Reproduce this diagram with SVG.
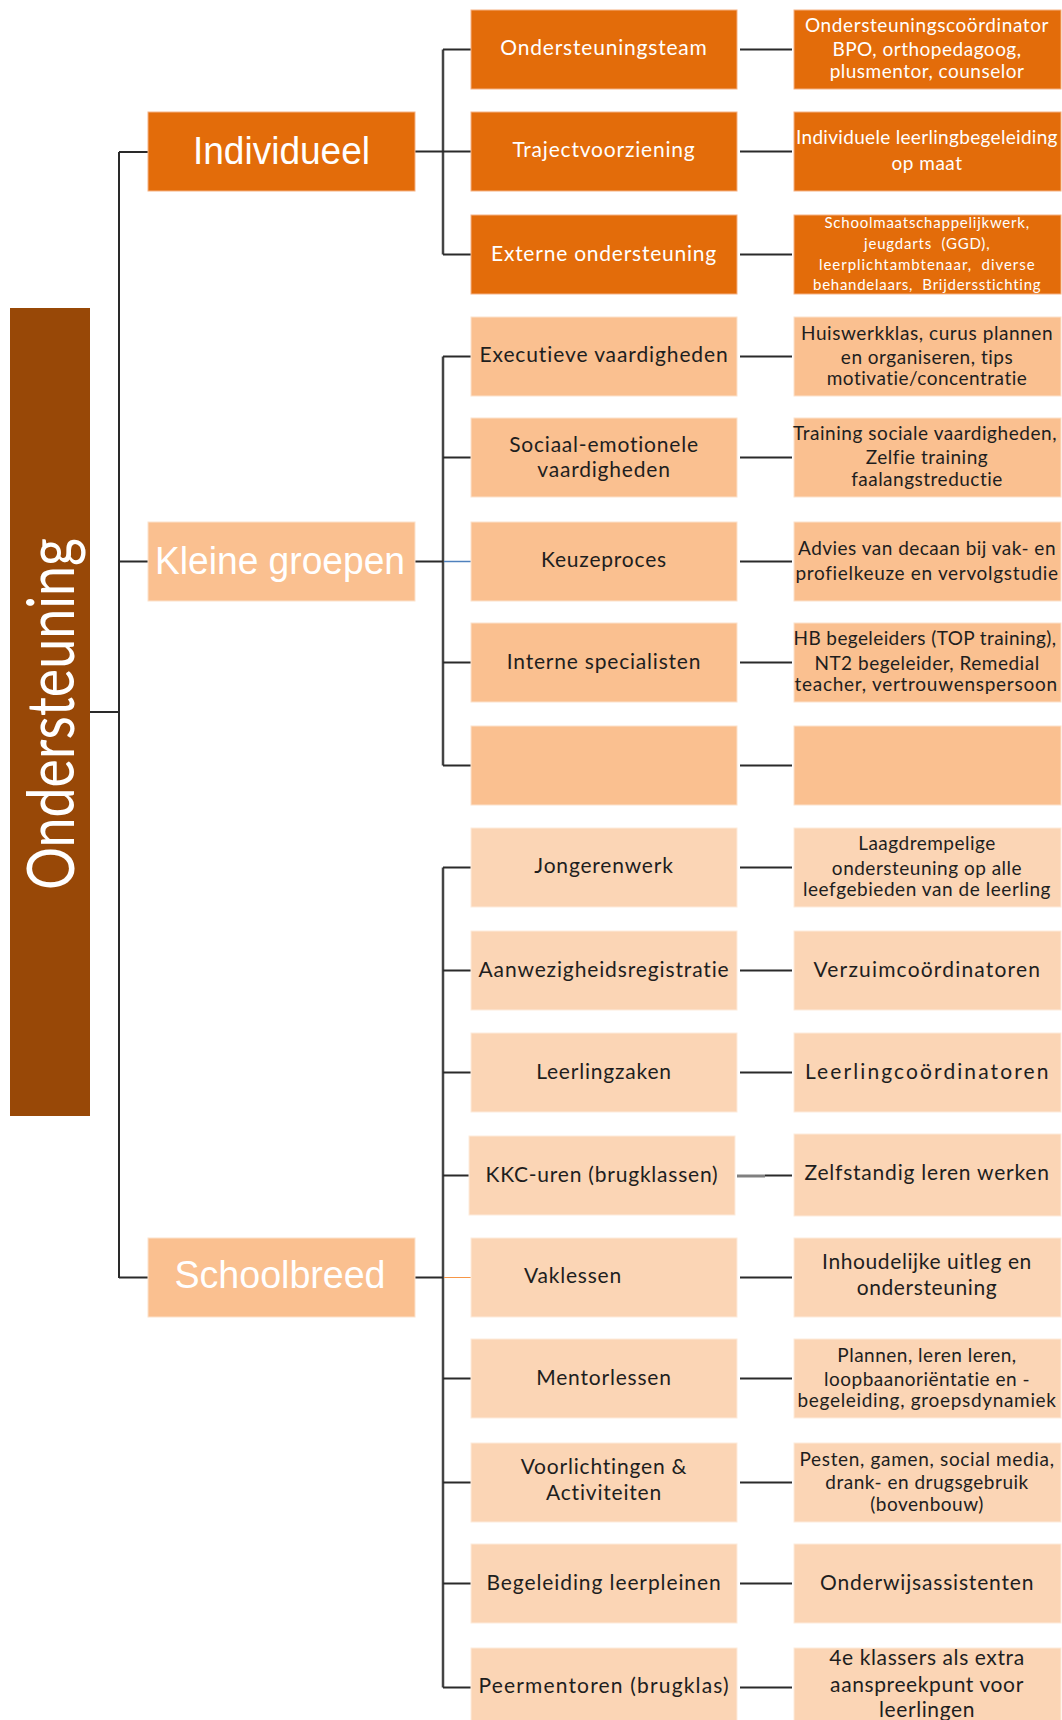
<svg xmlns="http://www.w3.org/2000/svg" width="1062" height="1720" viewBox="0 0 1062 1720">
<style>
.n1{fill:#E36C0A;stroke:#F5B183;stroke-width:1}
.n2{fill:#FAC090;stroke:#FCE2CC;stroke-width:1}
.n3{fill:#FBD5B5;stroke:#FDEBDC;stroke-width:1}
.root{fill:#984807}
text{font-family:Lato,"Open Sans",sans-serif;text-anchor:middle}
.big{font-family:"Liberation Sans",Arial,sans-serif;font-size:38px;fill:#fff}
.m{font-size:21px;letter-spacing:0.8px}
.r{font-size:19px;letter-spacing:0.5px}
.rl{font-size:21px;letter-spacing:0.6px}
.s{font-size:15px;letter-spacing:0.4px}
.w{fill:#fff}
.d{fill:#1e1e1e}
.c{stroke:#2a2a2a;stroke-width:2;fill:none}
.cv{stroke:#444;stroke-width:2.5;fill:none}
</style>
<g id="connectors">
<path class="c" d="M90 712H119M119 152V1278M119 152H148M119 561.5H148M119 1277.5H148"/>
<path class="cv" d="M443 49.5V254.5M443 356.5V765.5M443 867.5V1687.5"/>
<path class="c" stroke-width="3" d="M415 151.5H443M415 561.5H443M415 1277.5H443"/>
<path class="c" d="M443 49.5H471M443 151.5H471M443 254.5H471M443 356.5H471M443 457.5H471M443 662.5H471M443 765.5H471M443 867.5H471M443 970.5H471M443 1072.5H471M443 1175.5H469M443 1378.5H471M443 1482.5H471M443 1583.5H471M443 1687.5H471"/>
<path stroke="#4F81BD" stroke-width="1.5" d="M444 561.5H471"/>
<path stroke="#F79646" stroke-width="1" d="M444 1277.5H471"/>
<path class="c" stroke-width="2.5" d="M740 49.5H792M740 151.5H792M740 254.5H792M740 356.5H792M740 457.5H792M740 561.5H792M740 662.5H792M740 765.5H792M740 867.5H792M740 970.5H792M740 1072.5H792M765 1175.5H792M740 1277.5H792M740 1378.5H792M740 1482.5H792M740 1583.5H792M740 1687.5H792"/>
<path stroke="#808080" stroke-width="3" d="M737 1176H765"/>
</g>
<g id="root"><rect class="root" x="10" y="308" width="80" height="808"/>
<text transform="translate(74,714) rotate(-90)" font-family="'Liberation Sans',Arial,sans-serif" font-size="66" fill="#fff" textLength="352" lengthAdjust="spacingAndGlyphs">Ondersteuning</text></g>
<g id="individueel"><rect class="n1" x="148" y="112" width="267" height="79"/><text class="big" x="281.5" y="164" textLength="177" lengthAdjust="spacingAndGlyphs">Individueel</text></g>
<g id="kleine-groepen"><rect class="n2" x="148" y="522" width="267" height="79"/><text class="big" x="280" y="574" textLength="250" lengthAdjust="spacingAndGlyphs">Kleine groepen</text></g>
<g id="schoolbreed"><rect class="n2" x="148" y="1238" width="267" height="79"/><text class="big" x="280" y="1288" textLength="211" lengthAdjust="spacingAndGlyphs">Schoolbreed</text></g>

<g id="ondersteuningsteam"><rect class="n1" x="471" y="10" width="266" height="79"/><text class="m w" x="604" y="55">Ondersteuningsteam</text></g>
<g id="trajectvoorziening"><rect class="n1" x="471" y="112" width="266" height="79"/><text class="m w" x="604" y="157">Trajectvoorziening</text></g>
<g id="externe-ondersteuning"><rect class="n1" x="471" y="215" width="266" height="79"/><text class="m w" x="604" y="261" textLength="226">Externe ondersteuning</text></g>
<g id="executieve"><rect class="n2" x="471" y="317" width="266" height="79"/><text class="m d" x="604" y="362" textLength="249">Executieve vaardigheden</text></g>
<g id="sociaal"><rect class="n2" x="471" y="418" width="266" height="79"/><text class="m d" x="604" y="452">Sociaal-emotionele</text><text class="m d" x="604" y="477">vaardigheden</text></g>
<g id="keuzeproces"><rect class="n2" x="471" y="522" width="266" height="79"/><text class="m d" x="604" y="567">Keuzeproces</text></g>
<g id="interne"><rect class="n2" x="471" y="623" width="266" height="79"/><text class="m d" x="604" y="669">Interne specialisten</text></g>
<g id="leeg-midden"><rect class="n2" x="471" y="726" width="266" height="79"/></g>
<g id="jongerenwerk"><rect class="n3" x="471" y="828" width="266" height="79"/><text class="m d" x="604" y="873">Jongerenwerk</text></g>
<g id="aanwezigheid"><rect class="n3" x="471" y="931" width="266" height="79"/><text class="m d" x="604" y="977" textLength="251">Aanwezigheidsregistratie</text></g>
<g id="leerlingzaken"><rect class="n3" x="471" y="1033" width="266" height="79"/><text class="m d" x="604" y="1079">Leerlingzaken</text></g>
<g id="kkc"><rect class="n3" x="469" y="1136" width="266" height="79"/><text class="m d" x="602" y="1182" textLength="233">KKC-uren (brugklassen)</text></g>
<g id="vaklessen"><rect class="n3" x="471" y="1238" width="266" height="79"/><text class="m d" x="573" y="1283">Vaklessen</text></g>
<g id="mentorlessen"><rect class="n3" x="471" y="1339" width="266" height="79"/><text class="m d" x="604" y="1385">Mentorlessen</text></g>
<g id="voorlichtingen"><rect class="n3" x="471" y="1443" width="266" height="79"/><text class="m d" x="604" y="1474">Voorlichtingen &amp;</text><text class="m d" x="604" y="1500">Activiteiten</text></g>
<g id="begeleiding"><rect class="n3" x="471" y="1544" width="266" height="79"/><text class="m d" x="604" y="1590" textLength="235">Begeleiding leerpleinen</text></g>
<g id="peermentoren"><rect class="n3" x="471" y="1648" width="266" height="79"/><text class="m d" x="604" y="1693" textLength="251">Peermentoren (brugklas)</text></g>

<g id="r-ondersteuningsteam"><rect class="n1" x="794" y="10" width="267" height="79"/><text class="r w" x="927" y="32" textLength="244">Ondersteuningscoördinator</text><text class="r w" x="927" y="56">BPO, orthopedagoog,</text><text class="r w" x="927" y="78">plusmentor, counselor</text></g>
<g id="r-traject"><rect class="n1" x="794" y="112" width="267" height="79"/><text class="r w" x="927" y="144" textLength="262">Individuele leerlingbegeleiding</text><text class="r w" x="927" y="170">op maat</text></g>
<g id="r-extern"><rect class="n1" x="794" y="215" width="267" height="79"/><text class="s w" x="927" y="228" textLength="205">Schoolmaatschappelijkwerk,</text><text class="s w" x="927" y="249" textLength="126" xml:space="preserve">jeugdarts  (GGD),</text><text class="s w" x="927" y="270" textLength="216" xml:space="preserve">leerplichtambtenaar,  diverse</text><text class="s w" x="927" y="290" textLength="228" xml:space="preserve">behandelaars,  Brijdersstichting</text></g>
<g id="r-executieve"><rect class="n2" x="794" y="317" width="267" height="79"/><text class="r d" x="927" y="340" textLength="252">Huiswerkklas, curus plannen</text><text class="r d" x="927" y="364">en organiseren, tips</text><text class="r d" x="927" y="385">motivatie/concentratie</text></g>
<g id="r-sociaal"><rect class="n2" x="794" y="418" width="267" height="79"/><text class="r d" x="925" y="440" textLength="264">Training sociale vaardigheden,</text><text class="r d" x="927" y="464">Zelfie training</text><text class="r d" x="927" y="486">faalangstreductie</text></g>
<g id="r-keuze"><rect class="n2" x="794" y="522" width="267" height="79"/><text class="r d" x="927" y="555" textLength="258">Advies van decaan bij vak- en</text><text class="r d" x="927" y="580" textLength="263">profielkeuze en vervolgstudie</text></g>
<g id="r-interne"><rect class="n2" x="794" y="623" width="267" height="79"/><text class="r d" x="925" y="645" textLength="263">HB begeleiders (TOP training),</text><text class="r d" x="927" y="670">NT2 begeleider, Remedial</text><text class="r d" x="926" y="691" textLength="263">teacher, vertrouwenspersoon</text></g>
<g id="r-leeg"><rect class="n2" x="794" y="726" width="267" height="79"/></g>
<g id="r-jongerenwerk"><rect class="n3" x="794" y="828" width="267" height="79"/><text class="r d" x="927" y="850">Laagdrempelige</text><text class="r d" x="927" y="875">ondersteuning op alle</text><text class="r d" x="927" y="896" textLength="248">leefgebieden van de leerling</text></g>
<g id="r-aanwezigheid"><rect class="n3" x="794" y="931" width="267" height="79"/><text class="rl d" x="927" y="977" textLength="227">Verzuimcoördinatoren</text></g>
<g id="r-leerlingzaken"><rect class="n3" x="794" y="1033" width="267" height="79"/><text class="rl d" x="927" y="1079" textLength="244">Leerlingcoördinatoren</text></g>
<g id="r-kkc"><rect class="n3" x="794" y="1134" width="267" height="82"/><text class="rl d" x="927" y="1180" textLength="245">Zelfstandig leren werken</text></g>
<g id="r-vaklessen"><rect class="n3" x="794" y="1238" width="267" height="79"/><text class="rl d" x="927" y="1269">Inhoudelijke uitleg en</text><text class="rl d" x="927" y="1295">ondersteuning</text></g>
<g id="r-mentorlessen"><rect class="n3" x="794" y="1339" width="267" height="79"/><text class="r d" x="927" y="1362">Plannen, leren leren,</text><text class="r d" x="927" y="1386">loopbaanoriëntatie en -</text><text class="r d" x="927" y="1407" textLength="259">begeleiding, groepsdynamiek</text></g>
<g id="r-voorlichtingen"><rect class="n3" x="794" y="1443" width="267" height="79"/><text class="r d" x="927" y="1466" textLength="255">Pesten, gamen, social media,</text><text class="r d" x="927" y="1489">drank- en drugsgebruik</text><text class="r d" x="927" y="1511">(bovenbouw)</text></g>
<g id="r-begeleiding"><rect class="n3" x="794" y="1544" width="267" height="79"/><text class="rl d" x="927" y="1590" textLength="214">Onderwijsassistenten</text></g>
<g id="r-peermentoren"><rect class="n3" x="794" y="1648" width="267" height="79"/><text class="rl d" x="927" y="1665">4e klassers als extra</text><text class="rl d" x="927" y="1692">aanspreekpunt voor</text><text class="rl d" x="927" y="1717">leerlingen</text></g>
</svg>
